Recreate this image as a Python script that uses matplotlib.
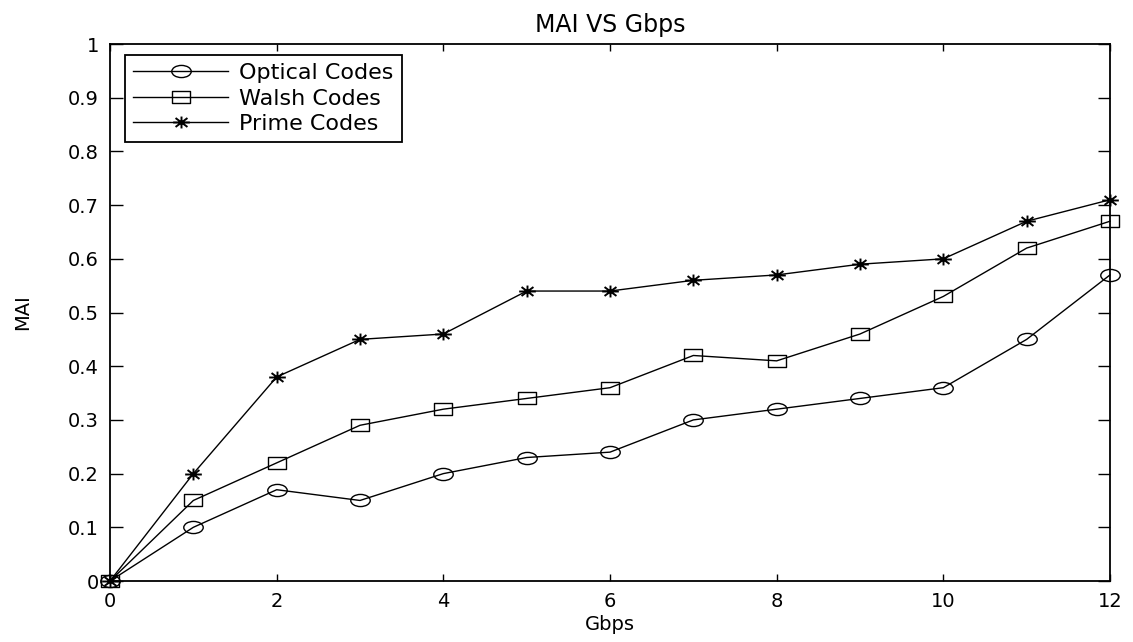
import matplotlib
matplotlib.use('Agg')
import matplotlib.pyplot as plt
from matplotlib.path import Path
from matplotlib.transforms import Affine2D

# data
gbps = [0, 1, 2, 3, 4, 5, 6, 7, 8, 9, 10, 11, 12]
optical = [0, 0.10, 0.17, 0.15, 0.20, 0.23, 0.24, 0.30, 0.32, 0.34, 0.36, 0.45, 0.57]
walsh = [0, 0.15, 0.22, 0.29, 0.32, 0.34, 0.36, 0.42, 0.41, 0.46, 0.53, 0.62, 0.67]
prime = [0, 0.20, 0.38, 0.45, 0.46, 0.54, 0.54, 0.56, 0.57, 0.59, 0.60, 0.67, 0.71]

x_ticks = [0, 2, 4, 6, 8, 10, 12]
y_ticks = [0, 0.1, 0.2, 0.3, 0.4, 0.5, 0.6, 0.7, 0.8, 0.9, 1]
y_tick_labels = ['0', '0.1', '0.2', '0.3', '0.4', '0.5', '0.6', '0.7', '0.8', '0.9', '1']

# the source picture is stretched sideways, so the markers are too
ellipse = Path.unit_circle().transformed(Affine2D().scale(1.6, 1.0))
box = Path([(-1.45, -1), (1.45, -1), (1.45, 1), (-1.45, 1), (-1.45, -1)],
           [Path.MOVETO, Path.LINETO, Path.LINETO, Path.LINETO, Path.CLOSEPOLY])
asterisk = Path([(-1.4, 0), (1.4, 0), (0, -1), (0, 1),
                 (-1.0, -0.75), (1.0, 0.75), (-1.0, 0.75), (1.0, -0.75)],
                [Path.MOVETO, Path.LINETO] * 4)

plt.rcParams['font.family'] = ['DejaVu Sans']

fig = plt.figure(figsize=(11.33, 6.42), dpi=100)
ax = fig.add_axes([0.0971, 0.095, 0.8826, 0.8364])

ax.plot(gbps, optical, color='black', lw=1.0, marker=ellipse, ms=14,
        mfc='none', mew=1.0, label='Optical Codes', clip_on=False)
ax.plot(gbps, walsh, color='black', lw=1.0, marker=box, ms=13,
        mfc='none', mew=1.0, label='Walsh Codes', clip_on=False)
ax.plot(gbps, prime, color='black', lw=1.0, marker=asterisk, ms=12,
        mfc='none', mew=1.4, label='Prime Codes', clip_on=False)

ax.set_xlim(0, 12)
ax.set_ylim(0, 1)
ax.set_xticks(x_ticks)
ax.set_yticks(y_ticks)
ax.set_yticklabels(y_tick_labels)
ax.tick_params(direction='in', top=True, right=True, width=1, labelsize=14)
ax.tick_params(axis='x', length=5, pad=8)
ax.tick_params(axis='y', length=9, pad=8)
for s in ax.spines.values():
    s.set_linewidth(1.3)

ax.set_title('MAI VS Gbps', fontsize=17, pad=9)
ax.set_xlabel('Gbps', fontsize=14, labelpad=3)
ax.set_ylabel('MAI', fontsize=14, labelpad=26)

leg = ax.legend(loc='upper left', bbox_to_anchor=(0.015, 0.979), borderaxespad=0,
                fontsize=16, fancybox=False, framealpha=1, edgecolor='black',
                handlelength=4.3, handletextpad=0.5, labelspacing=0.25,
                borderpad=0.35)
leg.get_frame().set_linewidth(1.3)

fig.savefig('out.png', dpi=100)
